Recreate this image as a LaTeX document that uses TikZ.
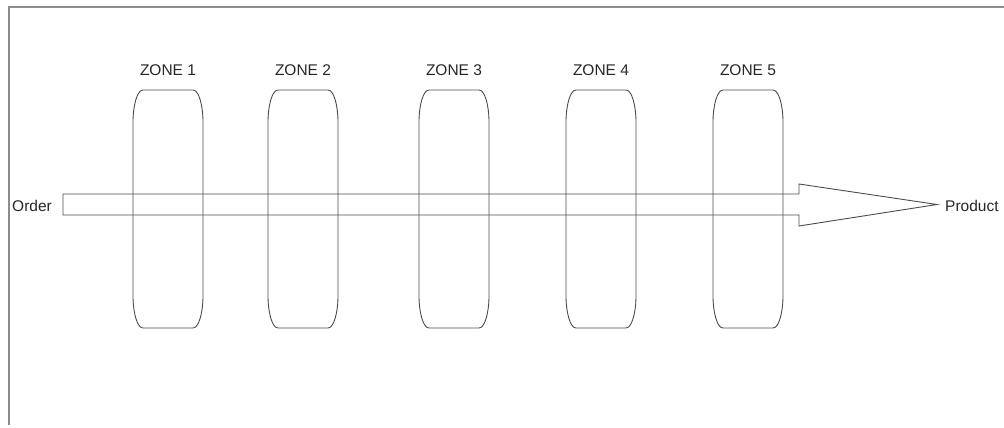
\documentclass[tikz,border=0pt]{standalone}
\usepackage{fontspec}
\setmainfont{Liberation Sans}
\usepackage{tikz}
\usetikzlibrary{positioning}
\colorlet{frameline}{black!45}
\colorlet{zoneline}{black!70}
\colorlet{textgray}{black!85}

\tikzset{
  zonebox/.style={draw=zoneline, line width=0.9pt},
  flowarrow/.style={draw=zoneline, line width=0.9pt, line join=miter},
  zonelabel/.style={anchor=base, inner sep=0pt, text=textgray, font=\fontsize{15.5}{18}\selectfont},
  endlabel/.style={inner sep=0pt, text=textgray, font=\fontsize{15.5}{18}\selectfont}
}

\begin{document}
\begin{tikzpicture}[x=1pt, y=-1pt]
    \useasboundingbox (0,0) rectangle (1004,428);
    % frame (top and left only)
    \draw[frameline, line width=2pt] (8.5,425) -- (8.5,7.5) -- (1004,7.5);

    % zones
    \foreach \zx/\zn in {168/1, 303/2, 454/3, 601/4, 748/5} {
      \draw[zonebox] (\zx-25,90) -- (\zx+25,90)
        .. controls (\zx+31,90) and (\zx+35,106) .. (\zx+35,122)
        -- (\zx+35,296)
        .. controls (\zx+35,312) and (\zx+31,328) .. (\zx+25,328)
        -- (\zx-25,328)
        .. controls (\zx-31,328) and (\zx-35,312) .. (\zx-35,296)
        -- (\zx-35,122)
        .. controls (\zx-35,106) and (\zx-31,90) .. (\zx-25,90) -- cycle;
      \node[zonelabel] (zone\zn) at (\zx,75) {ZONE \zn};
    }

    % order -> product
    \node[endlabel, anchor=base west] (order) at (12,211) {Order};
    \node[endlabel, anchor=base west] (product) at (945,211.5) {Product};
    \coordinate (tail) at (63,204.5);
    \coordinate (tip) at (937,204.5);
    \draw[flowarrow] ([yshift=10.5pt]tail) -- (799,194) -- (799,184) -- (tip)
      -- (799,226) -- (799,215) -- ([yshift=-10.5pt]tail) -- cycle;
\end{tikzpicture}
\end{document}
